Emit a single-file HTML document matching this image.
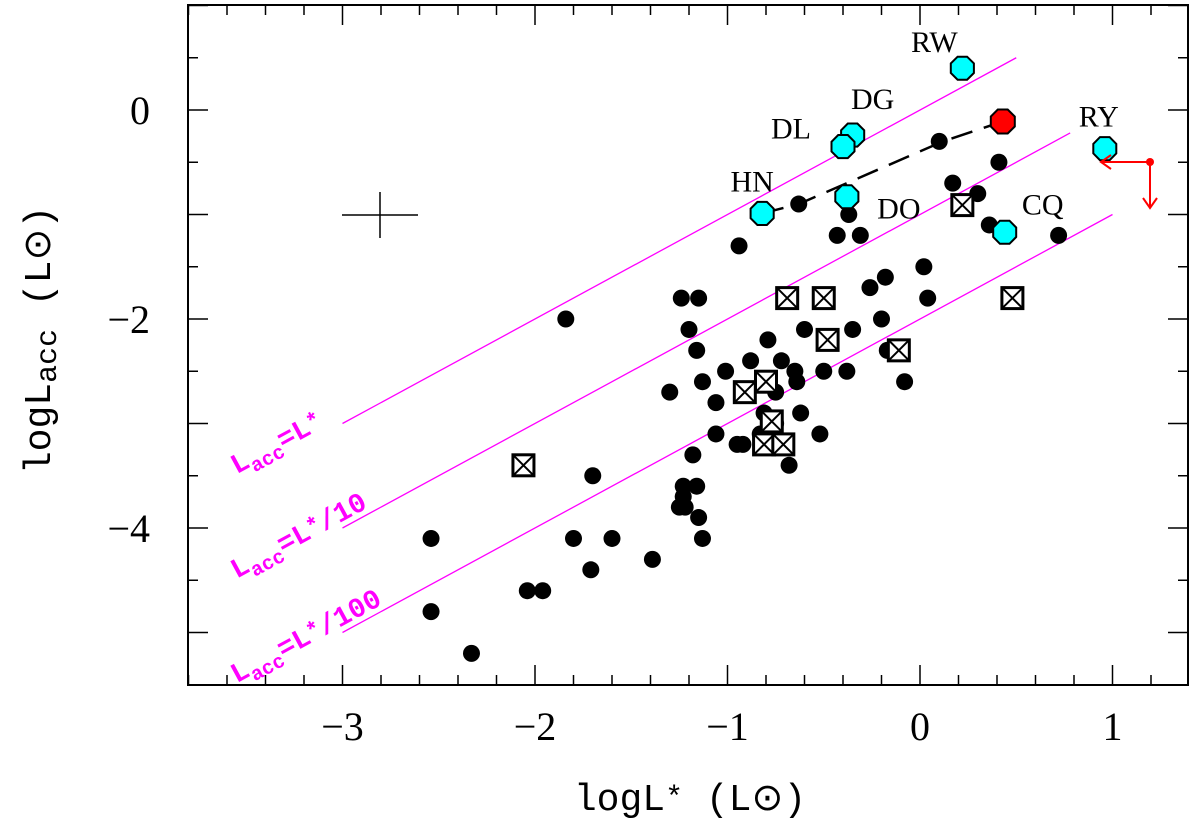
<!DOCTYPE html>
<html><head><meta charset="utf-8"><style>
html,body{margin:0;padding:0;background:#fff;width:1200px;height:826px;overflow:hidden}
svg text{font-family:"Liberation Serif",serif}
</style></head><body>
<svg id="chart" width="1200" height="826" viewBox="0 0 1200 826" xmlns="http://www.w3.org/2000/svg"></svg>
<script>
const xTicks=[-3,-2,-1,0,1];
const yTicks=[-4,-2,0];
const dotsX=[-0.63,0.41,0.10,0.17,0.30,-0.37,-0.43,-0.31,-0.94,0.36,0.72,0.02,-0.18,-0.26,0.04,-0.20,-0.35,-0.60,-0.64,-1.24,-1.15,-1.20,-1.16,-0.79,-0.88,-0.72,-1.01,-0.65,-0.50,-0.38,-1.13,-0.17,-0.08,-1.30,-1.06,-0.75,-0.62,-0.81,-0.75,-0.83,-0.52,-1.06,-0.92,-0.95,-0.68,-1.18,-1.23,-1.25,-1.84,-1.70,-2.54,-1.80,-1.60,-1.39,-1.71,-2.04,-1.96,-2.54,-2.33,-1.16,-1.23,-1.22,-1.15,-1.13];
const dotsY=[-0.90,-0.50,-0.30,-0.70,-0.80,-1.00,-1.20,-1.20,-1.30,-1.10,-1.20,-1.50,-1.60,-1.70,-1.80,-2.00,-2.10,-2.10,-2.60,-1.80,-1.80,-2.10,-2.30,-2.20,-2.40,-2.40,-2.50,-2.50,-2.50,-2.50,-2.60,-2.30,-2.60,-2.70,-2.80,-2.70,-2.90,-2.90,-3.00,-3.10,-3.10,-3.10,-3.20,-3.20,-3.40,-3.30,-3.70,-3.80,-2.00,-3.50,-4.10,-4.10,-4.10,-4.30,-4.40,-4.60,-4.60,-4.80,-5.20,-3.60,-3.60,-3.80,-3.90,-4.10,-4.90];
const sqX=[0.22,-0.69,-0.50,-0.48,-0.11,0.48,-0.80,-0.91,-0.77,-0.81,-0.71,-2.06];
const sqY=[-0.91,-1.80,-1.80,-2.20,-2.30,-1.80,-2.60,-2.70,-2.98,-3.20,-3.20,-3.40];
const cyanX=[0.22,-0.35,-0.40,-0.82,-0.38,0.44,0.96];
const cyanY=[0.40,-0.24,-0.35,-0.99,-0.83,-1.17,-0.37];
const cyanNames=["RW","DG","DL","HN","DO","CQ","RY"];
const lblDX=[-28,20,-52,-10,52,38,-6];
const lblDY=[-16,-26,-8,-22,22,-18,-22];
const redX=[0.43]; const redY=[-0.11];
const dashX=[-0.82,-0.63,0.12,0.43]; const dashY=[-0.99,-0.90,-0.30,-0.11];
const lineOffsets=[0,-1,-2]; const lineEnds=[0.5,0.78,1.0];
const lineLabels=["L*","L*/10","L*/100"];

const X=v=>920+v*192.5, Y=v=>110-v*104.5;
const svg=document.getElementById('chart'), NS="http://www.w3.org/2000/svg";
function mk(t,a,p){const e=document.createElementNS(NS,t);for(const k in a)e.setAttribute(k,a[k]);(p||svg).appendChild(e);return e;}
const L=188,R=1188,T=5,B=685;
const frame=mk('rect',{x:L,y:T,width:R-L,height:B-T,fill:'none',stroke:'#000','stroke-width':2});


for(let i=-19;i<=7;i++){const v=i*0.2,px=X(v);if(px<L||px>R)continue;const maj=Math.abs(v-Math.round(v))<1e-6;const len=maj?20:10;
 const t1=mk('line',{x1:px,x2:px,y1:B,y2:B-len,stroke:'#000','stroke-width':1.5});
 const t2=mk('line',{x1:px,x2:px,y1:T,y2:T+len,stroke:'#000','stroke-width':1.5});}
for(let i=-11;i<=2;i++){const v=i*0.5,py=Y(v);if(py<T||py>B)continue;const maj=Math.abs(v-Math.round(v))<1e-6;const len=maj?20:10;
 const t1=mk('line',{x1:L,x2:L+len,y1:py,y2:py,stroke:'#000','stroke-width':1.5});
 const t2=mk('line',{x1:R,x2:R-len,y1:py,y2:py,stroke:'#000','stroke-width':1.5});}
xTicks.forEach(v=>{const t=mk('text',{x:X(v),y:740,'text-anchor':'middle','font-size':40});t.textContent=(v<0?'\u2212':'')+Math.abs(v);});
yTicks.forEach(v=>{const t=mk('text',{x:150,y:Y(v)+14,'text-anchor':'end','font-size':40});t.textContent=(v<0?'\u2212':'')+Math.abs(v);});
const xt=mk('text',{x:690,y:810,'text-anchor':'middle','font-size':38,style:'font-family:"Liberation Mono",monospace'});xt.innerHTML='logL<tspan font-size="30" dy="-4">*</tspan><tspan dy="4"> (L\u2299)</tspan>';

const yt=mk('text',{x:0,y:0,'text-anchor':'middle','font-size':38,transform:'translate(50,340) rotate(-90)',style:'font-family:"Liberation Mono",monospace'});yt.innerHTML='logL<tspan font-size="30" dy="6">acc</tspan><tspan dy="-6"> (L\u2299)</tspan>';

lineOffsets.forEach((o,i)=>{const l=mk('line',{x1:X(-3),y1:Y(-3+o),x2:X(lineEnds[i]),y2:Y(lineEnds[i]+o),stroke:'#f0f','stroke-width':1.3});
 
 const ang=-Math.atan(104.5/192.5)*180/Math.PI;const bx=X(-3.55),by=Y(-3.55+o+0.12)+6;
 const t=mk('text',{x:bx,y:by,fill:'#f0f','font-size':28,'font-weight':'bold',transform:`rotate(${ang} ${bx} ${by})`,style:'font-family:"Liberation Mono",monospace'});
 t.innerHTML='L<tspan font-size="20" dy="7">acc</tspan><tspan dy="-7">=</tspan>'+lineLabels[i].replace('*','<tspan font-size="22" dy="-4">*</tspan><tspan dy="4">')+'</tspan>';
 });
const ec=mk('path',{d:'M342 215H418M380 192V238',stroke:'#000','stroke-width':1.5,fill:'none'});
const dl=mk('polyline',{points:dashX.map((v,i)=>X(v)+','+Y(dashY[i])).join(' '),fill:'none',stroke:'#000','stroke-width':2.5,'stroke-dasharray':'22 12'});

dotsX.forEach((v,i)=>{const c=mk('circle',{cx:X(v),cy:Y(dotsY[i]),r:8.5,fill:'#000'});});
sqX.forEach((v,i)=>{const x=X(v),y=Y(sqY[i]),s=10.5;const g=mk('g',{});
 mk('rect',{x:x-s,y:y-s,width:2*s,height:2*s,fill:'#fff',stroke:'#000','stroke-width':3},g);
 mk('path',{d:`M${x-s} ${y-s}L${x+s} ${y+s}M${x+s} ${y-s}L${x-s} ${y+s}`,stroke:'#000','stroke-width':2},g);});
function oct(x,y,r,fill,name){const pts=[];for(let k=0;k<8;k++){const a=Math.PI/8+k*Math.PI/4;pts.push((x+r*Math.cos(a)).toFixed(1)+','+(y+r*Math.sin(a)).toFixed(1));}
 const p=mk('polygon',{points:pts.join(' '),fill:fill,stroke:'#000','stroke-width':2});}
cyanX.forEach((v,i)=>{oct(X(v),Y(cyanY[i]),12.5,'#0ff','cyan-star');
 const t=mk('text',{x:X(v)+lblDX[i],y:Y(cyanY[i])+lblDY[i],'text-anchor':'middle','font-size':30});t.textContent=cyanNames[i];
 });
redX.forEach((v,i)=>oct(X(v),Y(redY[i]),13,'#f00','red-star'));
const ar=mk('g',{stroke:'#f00','stroke-width':2,fill:'none'});
mk('path',{d:'M1150 162H1101M1111 155L1101 162L1111 169M1150 162V208M1143 198L1150 208L1157 198'},ar);
const rd=mk('circle',{cx:1150,cy:162,r:4,fill:'#f00'});
</script>
</body></html>
